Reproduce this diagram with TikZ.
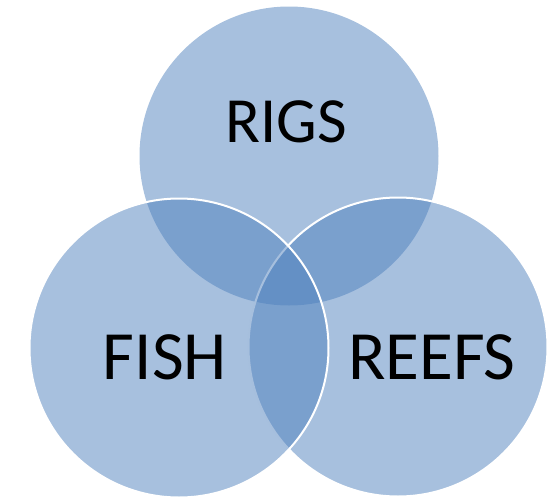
\documentclass[tikz,border=0pt]{standalone}
\usepackage{fontspec}
\setmainfont{Carlito}
\definecolor{vennColor}{RGB}{79,129,189}
\tikzstyle{vennPicture} = [x = 0.03cm, y = -0.03cm]
\tikzstyle{backCircle} = [fill=vennColor, fill opacity=0.5, draw=none]
\tikzstyle{frontCircle} = [fill=vennColor, fill opacity=0.5, draw=white, line width=0.06cm]
\tikzstyle{setLabel} = [font=\fontsize{59}{60}\selectfont, anchor=base, inner sep=0pt]
\newcommand{\vennRadius}{149.5}
\newcommand{\vennCircle}[3]{\filldraw [#1] (#2, #3) circle (\vennRadius);}

\begin{document}
\begin{tikzpicture}[vennPicture]
      \useasboundingbox (0,0) rectangle (548,498);

      % back to front: top, right, left
      \vennCircle{backCircle}{289}{156}
      \vennCircle{frontCircle}{398}{347}
      \vennCircle{frontCircle}{179}{348}

      \node [setLabel, font=\fontsize{55}{56}\selectfont] (rigs) at (286,142) {RIGS};
      \node [setLabel] (fish) at (165,379) {FISH};
      \node [setLabel] (reefs) at (432,379) {REEFS};
    \end{tikzpicture}
\end{document}
